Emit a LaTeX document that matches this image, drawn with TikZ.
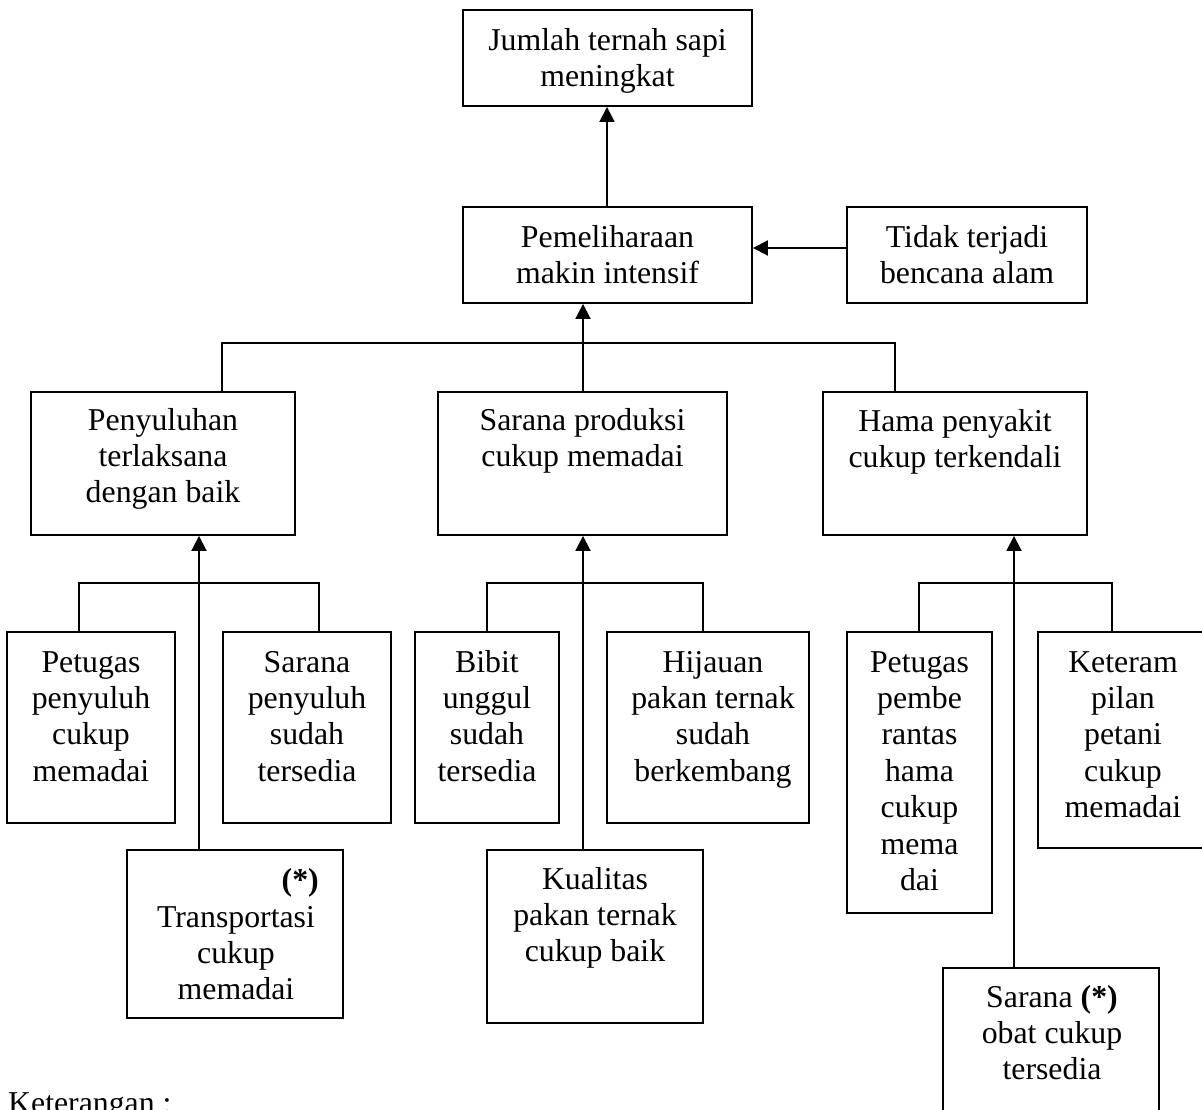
\documentclass[tikz,border=0pt]{standalone}
\usepackage{fontspec}
\setmainfont{Liberation Serif}
\usetikzlibrary{arrows.meta,fit}
\newcommand{\bodyfont}{\fontsize{31.8}{36.4}\selectfont}
\begin{document}
\begin{tikzpicture}[x=1pt,y=-1pt,
  box/.style={draw,line width=1.9pt,rectangle,inner sep=0pt},
  txt/.style={anchor=north,inner sep=0pt,align=center,font=\bodyfont},
  conn/.style={line width=1.9pt},
  arr/.style={line width=1.9pt,-{Triangle[length=15pt,width=15pt]}}]
\useasboundingbox (0,0) rectangle (1202,1109);
\clip (0,0) rectangle (1202,1109);
% boxes
\node[box,fit={(463,10) (752,106)}] (A) {};
\node[box,fit={(463,207) (752,303)}] (B) {};
\node[box,fit={(847,207) (1087,303)}] (C) {};
\node[box,fit={(31,392) (295,535)}] (D) {};
\node[box,fit={(438,392) (727,535)}] (E) {};
\node[box,fit={(823,392) (1087,535)}] (F) {};
\node[box,fit={(7,632) (175,823)}] (G1) {};
\node[box,fit={(223,632) (391,823)}] (G2) {};
\node[box,fit={(127,850) (343,1018)}] (T) {};
\node[box,fit={(415,632) (559,823)}] (H1) {};
\node[box,fit={(607,632) (809,823)}] (H2) {};
\node[box,fit={(487,850) (703,1023)}] (K) {};
\node[box,fit={(847,632) (992,913)}] (P1) {};
\node[box,fit={(1038,632) (1215,848)}] (P2) {};
\node[box,fit={(943,968) (1159,1140)}] (S) {};
% texts
\node[txt] (At) at (607.5,24.5) {\strut Jumlah ternah sapi\\meningkat};
\node[txt] (Bt) at (607.5,221.5) {\strut Pemeliharaan\\makin intensif};
\node[txt] (Ct) at (967,221.5) {\strut Tidak terjadi\\bencana alam};
\node[txt] (Dt) at (163,404.5) {\strut Penyuluhan\\terlaksana\\dengan baik};
\node[txt] (Et) at (582.5,404.5) {\strut Sarana produksi\\cukup memadai};
\node[txt] (Ft) at (955,405.5) {\strut Hama penyakit\\cukup terkendali};
\node[txt] (G1t) at (91,646.5) {\strut Petugas\\penyuluh\\cukup\\memadai};
\node[txt] (G2t) at (307,646.5) {\strut Sarana\\penyuluh\\sudah\\tersedia};
\node[anchor=base east,inner sep=0pt,font=\bodyfont] (Tm) at (319,890) {\textbf{(*)}};
\node[txt] (Tt) at (236,901.5) {\strut Transportasi\\cukup\\memadai};
\node[txt] (H1t) at (487,646.5) {\strut Bibit\\unggul\\sudah\\tersedia};
\node[txt] (H2t) at (713,646.5) {\strut Hijauan\\pakan ternak\\sudah\\berkembang};
\node[txt] (Kt) at (595,863.5) {\strut Kualitas\\pakan ternak\\cukup baik};
\node[txt] (P1t) at (919.5,646.5) {\strut Petugas\\pembe\\rantas\\hama\\cukup\\mema\\dai};
\node[txt] (P2t) at (1123,646.5) {\strut Keteram\\pilan\\petani\\cukup\\memadai};
\node[txt] (St) at (1052,981.5) {\strut Sarana \textbf{(*)}\\obat cukup\\tersedia};
\node[anchor=base west,inner sep=0pt,font=\bodyfont] (ket) at (8,1113) {Keterangan :};
% junction coordinates
\coordinate (x0) at (607,0);
\coordinate (j1L) at (222,343);
\coordinate (j1R) at (895,343);
\coordinate (j2L) at (79,583);
\coordinate (j2R) at (319,583);
\coordinate (j3L) at (487,583);
\coordinate (j3R) at (703,583);
\coordinate (j4L) at (919,583);
\coordinate (j4R) at (1112,583);
\coordinate (x1) at (199,0);
\coordinate (x2) at (583,0);
\coordinate (x3) at (1014,0);
% connectors
\draw[arr] (x0 |- B.north) -- (x0 |- A.south);
\draw[arr] ([yshift=7pt]C.west) -- ([yshift=7pt]B.east);
\draw[conn] (j1L |- D.north) -- (j1L) -- (j1R) -- (j1R |- F.north);
\draw[arr] (x2 |- E.north) -- (x2 |- B.south);
\draw[conn] (j2L |- G1.north) -- (j2L) -- (j2R) -- (j2R |- G2.north);
\draw[conn] (j3L |- H1.north) -- (j3L) -- (j3R) -- (j3R |- H2.north);
\draw[conn] (j4L |- P1.north) -- (j4L) -- (j4R) -- (j4R |- P2.north);
\draw[arr] (x1 |- T.north) -- (x1 |- D.south);
\draw[arr] (x2 |- K.north) -- (x2 |- E.south);
\draw[arr] (x3 |- S.north) -- (x3 |- F.south);
\end{tikzpicture}
\end{document}
